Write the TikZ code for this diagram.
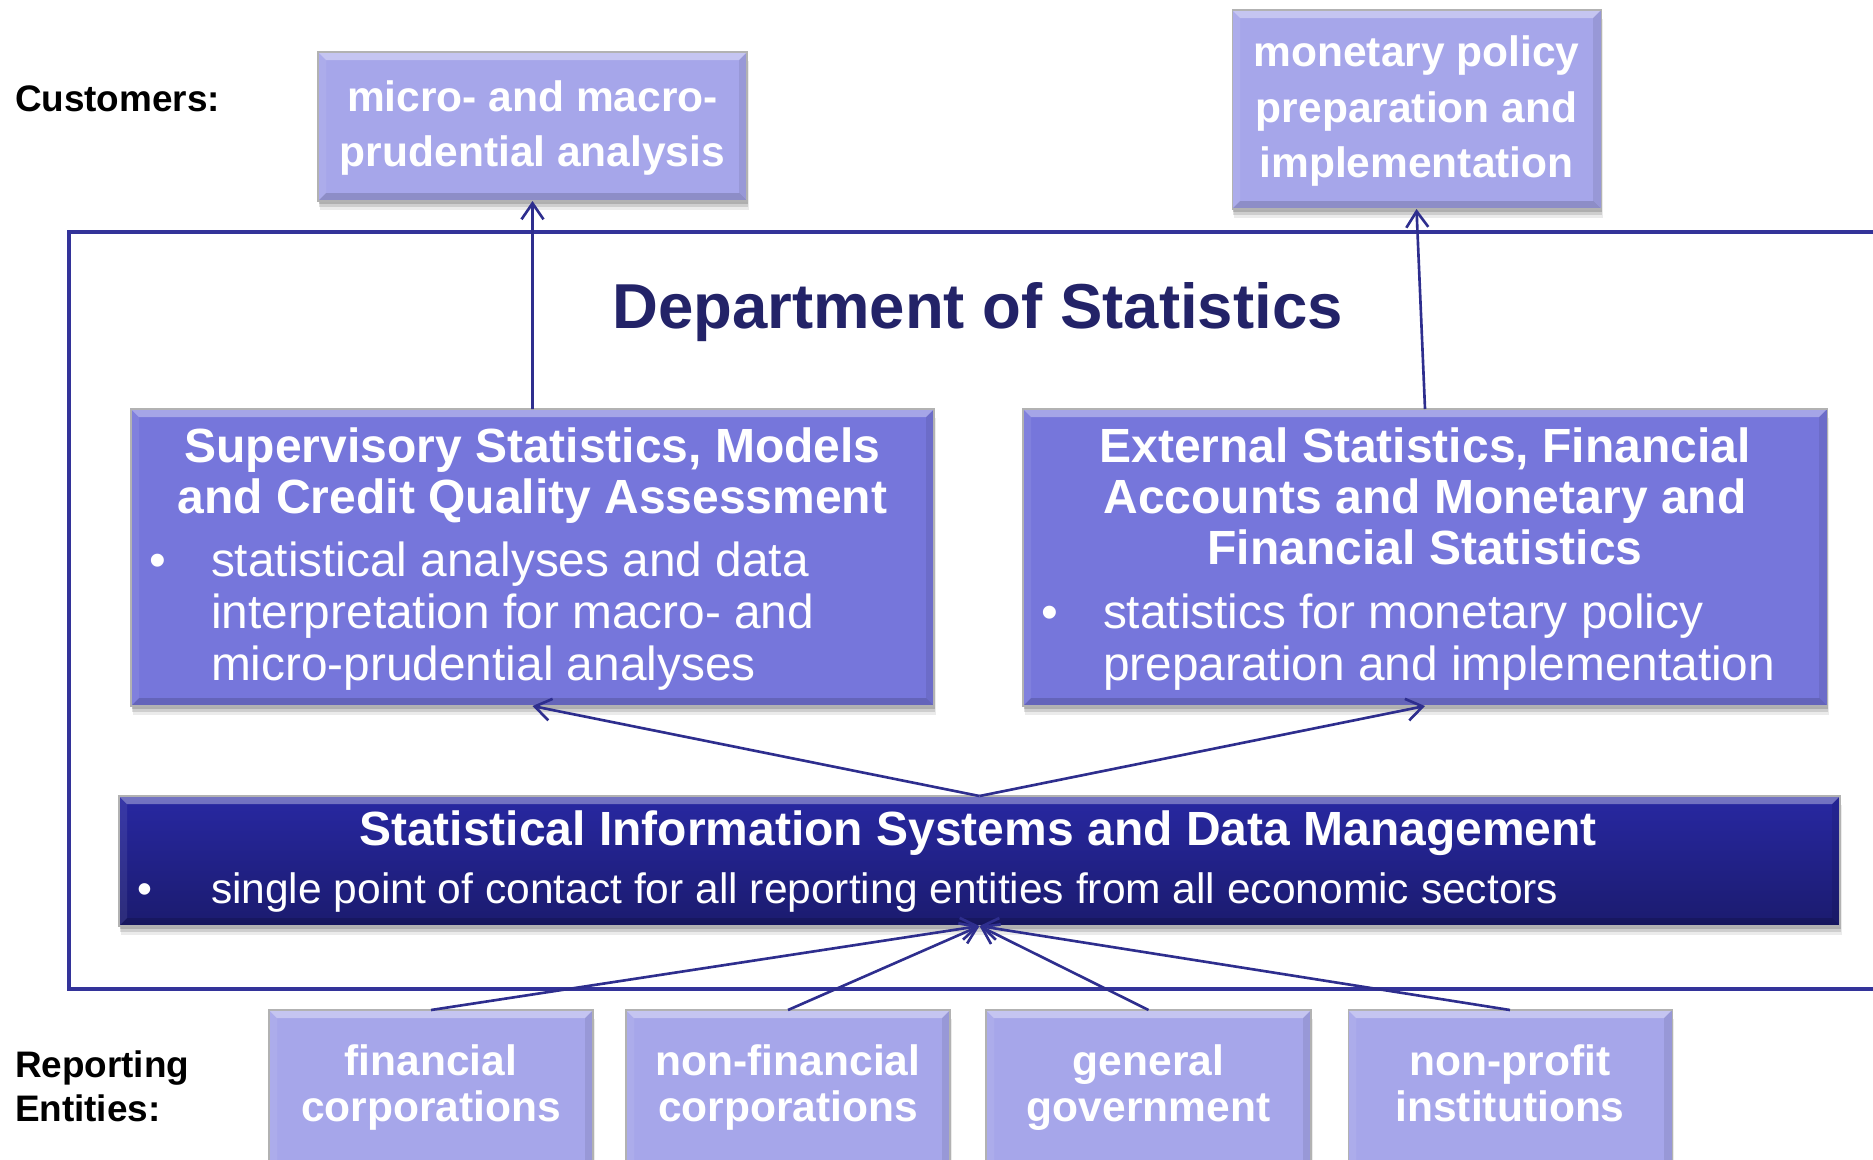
\documentclass[tikz,border=0pt]{standalone}
\usepackage{fontspec}
\setmainfont{Liberation Sans}
\usetikzlibrary{arrows.meta,shadows,calc}
\definecolor{lightboxc}{HTML}{A6A6EA}
\definecolor{midboxc}{HTML}{7676DB}
\definecolor{sistop}{HTML}{2828A2}
\definecolor{sisbot}{HTML}{1B1B6E}
\definecolor{frameblue}{HTML}{333399}
\definecolor{arrowblue}{HTML}{2E2E8E}
\definecolor{titlenavy}{HTML}{232368}
\newcommand\bevw{0.8mm}
\tikzset{
  bevel/.style={path picture={
     \coordinate (pNW) at (path picture bounding box.north west);
     \coordinate (pSE) at (path picture bounding box.south east);
     \coordinate (pNE) at (pNW -| pSE);
     \coordinate (pSW) at (pSE -| pNW);
     \fill[white,opacity=.35] (pNW) -- (pNE) -- ([shift={(-\bevw,-\bevw)}]pNE) -- ([shift={(\bevw,-\bevw)}]pNW) -- cycle;
     \fill[black,opacity=.15] (pSW) -- (pSE) -- ([shift={(-\bevw,\bevw)}]pSE) -- ([shift={(\bevw,\bevw)}]pSW) -- cycle;
     \fill[black,opacity=.08] (pNE) -- (pSE) -- ([shift={(-\bevw,\bevw)}]pSE) -- ([shift={(-\bevw,-\bevw)}]pNE) -- cycle;
     \fill[white,opacity=.08] (pNW) -- (pSW) -- ([shift={(\bevw,\bevw)}]pSW) -- ([shift={(\bevw,-\bevw)}]pNW) -- cycle;
  }},
  boxbase/.style={anchor=north west, inner sep=0pt, outer sep=0pt, draw=black!30, line width=0.3pt, bevel,
     drop shadow={shadow xshift=0.15mm, shadow yshift=-0.9mm, opacity=0.08, fill=black},
     drop shadow={shadow xshift=0.1mm, shadow yshift=-0.6mm, opacity=0.12, fill=black},
     drop shadow={shadow xshift=0.05mm, shadow yshift=-0.3mm, opacity=0.15, fill=black}},
  lightbox/.style={boxbase, fill=lightboxc},
  midbox/.style={boxbase, fill=midboxc},
  sisbox/.style={boxbase, top color=sistop, bottom color=sisbot},
  txt/.style={inner sep=0pt, outer sep=0pt, anchor=base, text=white},
  cbold/.style={txt, font=\fontsize{12.1}{14}\selectfont\bfseries},
  hbold/.style={txt, font=\fontsize{13.66}{16}\selectfont\bfseries},
  bul/.style={txt, anchor=base west, font=\fontsize{13.6}{16}\selectfont},
  bulmark/.style={txt, font=\fontsize{13.6}{16}\selectfont},
  sisbul/.style={txt, anchor=base west, font=\fontsize{12.1}{14}\selectfont},
  sismark/.style={txt, font=\fontsize{12.1}{14}\selectfont},
  lbl/.style={inner sep=0pt, outer sep=0pt, anchor=base west, text=black, font=\fontsize{10.5}{12}\selectfont\bfseries},
  titl/.style={inner sep=0pt, outer sep=0pt, anchor=base, text=titlenavy, font=\fontsize{18.07}{20}\selectfont\bfseries},
  frame/.style={draw=frameblue, line width=1.35pt},
  arr/.style={draw=arrowblue, line width=0.75pt, -{Straight Barb[length=1.6mm,width=2.2mm]}}
}
\begin{document}
\begin{tikzpicture}[x=0.1mm,y=-0.1mm]
\useasboundingbox (0,0) rectangle (1873,1159);
% department frame (open to the right)
\draw[frame] (1885,232) -- (69,232) -- (69,989) -- (1885,989);
\node[titl] (title) at (977.5,328) {Department of Statistics};
% labels
\node[lbl] (lcust) at (15,111) {Customers:};
\node[lbl] (lrep1) at (15,1077) {Reporting};
\node[lbl] (lrep2) at (15,1121) {Entities:};
% customer boxes
\node[lightbox, minimum width=42.9mm, minimum height=14.9mm] (c1) at (318,52) {};
\node[cbold] (c1a) at (532.5,111) {micro- and macro-};
\node[cbold] (c1b) at (532.5,166) {prudential analysis};
\node[lightbox, minimum width=36.9mm, minimum height=19.9mm] (c2) at (1232,10) {};
\node[cbold] (c2a) at (1416.5,66) {monetary policy};
\node[cbold] (c2b) at (1416.5,122) {preparation and};
\node[cbold] (c2c) at (1416.5,177) {implementation};
% supervisory
\node[midbox, minimum width=80.3mm, minimum height=29.7mm] (sup) at (131,409) {};
\node[hbold] (supt1) at (532.5,462) {Supervisory Statistics, Models};
\node[hbold] (supt2) at (532.5,513) {and Credit Quality Assessment};
\node[bulmark] (supm) at (158,576) {•};
\node[bul] (supb1) at (211,576) {statistical analyses and data};
\node[bul] (supb2) at (211,628) {interpretation for macro- and};
\node[bul] (supb3) at (211,680) {micro-prudential analyses};
% external
\node[midbox, minimum width=80.4mm, minimum height=29.7mm] (ext) at (1023,409) {};
\node[hbold] (extt1) at (1425,462) {External Statistics, Financial};
\node[hbold] (extt2) at (1425,513) {Accounts and Monetary and};
\node[hbold] (extt3) at (1425,564) {Financial Statistics};
\node[bulmark] (extm) at (1050,628) {•};
\node[bul] (extb1) at (1103,628) {statistics for monetary policy};
\node[bul] (extb2) at (1103,680) {preparation and implementation};
% SIS
\node[sisbox, minimum width=172.1mm, minimum height=13mm] (sis) at (119,796) {};
\node[hbold] (sist) at (978,845.5) {Statistical Information Systems and Data Management};
\node[sismark] (sism) at (145,903) {•};
\node[sisbul] (sisb) at (211,903) {single point of contact for all reporting entities from all economic sectors};
% reporting entities
\node[lightbox, minimum width=32.4mm, minimum height=17mm] (b1) at (269,1010) {};
\node[cbold] (b1a) at (431,1075) {financial};
\node[cbold] (b1b) at (431,1121) {corporations};
\node[lightbox, minimum width=32.4mm, minimum height=17mm] (b2) at (626,1010) {};
\node[cbold] (b2a) at (788,1075) {non-financial};
\node[cbold] (b2b) at (788,1121) {corporations};
\node[lightbox, minimum width=32.5mm, minimum height=17mm] (b3) at (986,1010) {};
\node[cbold] (b3a) at (1148.5,1075) {general};
\node[cbold] (b3b) at (1148.5,1121) {government};
\node[lightbox, minimum width=32.4mm, minimum height=17mm] (b4) at (1348,1010) {};
\node[cbold] (b4a) at (1510,1075) {non-profit};
\node[cbold] (b4b) at (1510,1121) {institutions};
% connectors
\draw[arr] (sup.north) -- (c1.south);
\draw[arr] (ext.north) -- (c2.south);
\draw[arr] (sis.north) -- (sup.south);
\draw[arr] (sis.north) -- (ext.south);
\draw[arr] (b1.north) -- (sis.south);
\draw[arr] (b2.north) -- (sis.south);
\draw[arr] (b3.north) -- (sis.south);
\draw[arr] (b4.north) -- (sis.south);
\end{tikzpicture}
\end{document}
